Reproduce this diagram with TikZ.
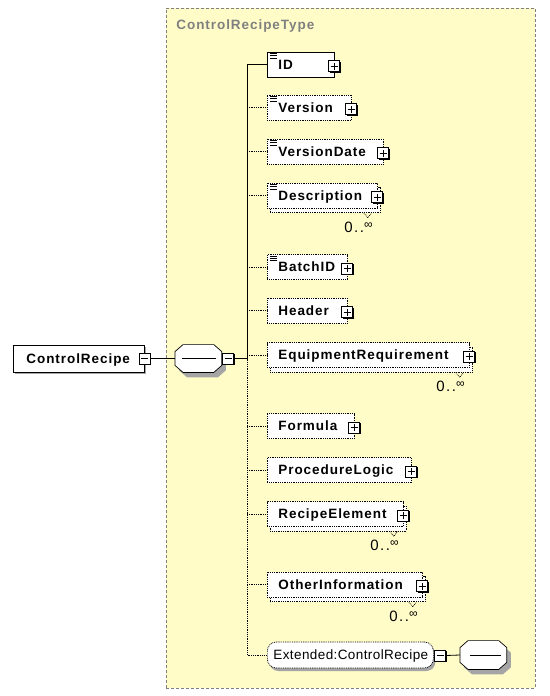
\documentclass[tikz,border=0pt]{standalone}
\usepackage{fontspec}
\setmainfont{Liberation Sans}
\newfontfamily\lbfam[LetterSpace=7]{Liberation Sans}
\newfontfamily\lrfam[LetterSpace=3]{Liberation Sans}
\newfontfamily\lmfam[LetterSpace=10]{Liberation Sans}
\usetikzlibrary{calc}
\definecolor{bgy}{RGB}{255,252,200}
\definecolor{framec}{RGB}{128,128,128}
\definecolor{shd}{RGB}{165,165,165}

\newcommand\ElBox[5][]{%
  \node[elbox,#1, minimum width={#3-267}, anchor=west] (#2) at (267,#4) {};
  \node[lab, anchor=base west] (#2-t) at (278,#4+4.8) {#5};
  \node[pm] (#2-p) at (#3,#4+1.5) {};
}
\newcommand\ElBack[3]{%
  \node[elbox, minimum width={#2-267}, anchor=west] (#1-b) at (270,#3+4.5) {};
}
\newcommand\ElMult[3]{%
  \draw[dotline, line width=0.6pt] ($(#1-b.south east)+(-17,0)$) -- ++(4,5) -- ++(4,-5);
  \node[mult, anchor=base east] (#1-m) at (#2-4,#3+36.5) {0..\raisebox{4pt}{\fontsize{12}{12}\selectfont ∞}};
}
\newcommand\ElIcon[1]{%
  \foreach \d in {1.8,4,6.2} \draw[line width=0.6pt] ([shift={(3,\d)}]#1.north west) -- ++(7,0);
}
\newcommand\OctPath[1]{([xshift=8pt]#1.north west) -- ([xshift=-8pt]#1.north east) -- ([yshift=-7pt]#1.north east) -- ([yshift=7pt]#1.south east) -- ([xshift=-8pt]#1.south east) -- ([xshift=8pt]#1.south west) -- ([yshift=7pt]#1.south west) -- ([yshift=-7pt]#1.north west) -- cycle}

\begin{document}
\begin{tikzpicture}[x=1pt,y=-1pt, line width=0.8pt,
  dotline/.style={dash pattern=on 0.9pt off 0.9pt},
  lab/.style={inner sep=0pt, font=\lbfam\bfseries\fontsize{13.5}{15}\selectfont},
  labr/.style={inner sep=0pt, font=\lrfam\fontsize{13.5}{15}\selectfont},
  mult/.style={inner sep=0pt, font=\lmfam\fontsize{15}{17}\selectfont},
  elbox/.style={draw, fill=white, line width=0.7pt, dotline, minimum height=25pt, inner sep=0pt, shape=rectangle},
  pm/.style={draw, fill=white, line width=0.7pt, solid, minimum size=11pt, inner sep=0pt, shape=rectangle,
    preaction={fill=black, transform canvas={shift={(1.2pt,-1.2pt)}}},
    path picture={\draw[line width=0.7pt, solid] ([xshift=-3.5pt]path picture bounding box.center) -- ([xshift=3.5pt]path picture bounding box.center) ([yshift=-3.5pt]path picture bounding box.center) -- ([yshift=3.5pt]path picture bounding box.center);}},
  mm/.style={draw, fill=white, line width=0.7pt, solid, minimum size=11pt, inner sep=0pt, shape=rectangle,
    preaction={fill=black, transform canvas={shift={(1.2pt,-1.2pt)}}},
    path picture={\draw[line width=0.7pt, solid] ([xshift=-3.5pt]path picture bounding box.center) -- ([xshift=3.5pt]path picture bounding box.center);}},
  seqbox/.style={inner sep=0pt, minimum width=46pt, minimum height=27pt, shape=rectangle}
]
\useasboundingbox (0,0) rectangle (549,696);

% type frame
\node[draw=framec, fill=bgy, dash pattern=on 3pt off 2pt, line width=0.7pt, minimum width=369pt, minimum height=680pt, inner sep=0pt, anchor=north west] (typebox) at (166,8) {};
\node[lab, text=framec, anchor=base west] (typetitle) at (176,29) {ControlRecipeType};

% root element
\node[draw, fill=white, line width=0.7pt, minimum width=131pt, minimum height=27pt, inner sep=0pt, anchor=west,
  preaction={fill=shd, transform canvas={shift={(1.5pt,-1.5pt)}}}] (root) at (13,358.5) {};
\node[lab, anchor=base west] (root-t) at (26,363.3) {ControlRecipe};
\node[mm] (root-m) at (144.5,358.5) {};

% sequence compositor
\node[seqbox, anchor=west] (seq) at (175,358.5) {};
\fill[shd, transform canvas={shift={(4pt,-5pt)}}] \OctPath{seq};
\draw[fill=white, line width=0.7pt] \OctPath{seq};
\draw ([xshift=7pt]seq.west) -- ([xshift=-6pt]seq.east);
\node[mm] (seq-m) at (228,358.5) {};
\draw (root-m.east) -- (seq.west);

\coordinate (spinex) at (247,0);

% elements
\ElBox[solid]{ID}{334}{64.5}{ID}\ElIcon{ID}
\ElBox{Ver}{351}{107.5}{Version}\ElIcon{Ver}
\ElBox{VerD}{383}{151.5}{VersionDate}\ElIcon{VerD}
\ElBack{Desc}{377}{195.5}\ElBox{Desc}{377}{195.5}{Description}\ElIcon{Desc}\ElMult{Desc}{377}{195.5}
\ElBox{Batch}{347}{267}{BatchID}\ElIcon{Batch}
\ElBox{Head}{347}{310.5}{Header}
\ElBack{Eq}{469}{355}\ElBox{Eq}{469}{355}{EquipmentRequirement}\ElMult{Eq}{469}{355}
\ElBox{Form}{354}{426}{Formula}
\ElBox{Proc}{411}{470}{ProcedureLogic}
\ElBack{Rec}{403}{514}\ElBox{Rec}{403}{514}{RecipeElement}\ElMult{Rec}{403}{514}
\ElBack{Oth}{422}{584.5}\ElBox{Oth}{422}{584.5}{OtherInformation}\ElMult{Oth}{422}{584.5}

% extension
\node[draw, fill=white, line width=0.7pt, dotline, rounded corners=9pt, minimum width=166pt, minimum height=26pt, inner sep=0pt, anchor=west,
  preaction={fill=shd, transform canvas={shift={(2pt,-3pt)}}}] (Ext) at (267,655) {};
\node[labr, anchor=base west] (Ext-t) at (273,659.8) {Extended:ControlRecipe};
\node[mm] (Ext-m) at (440,655.5) {};
\node[seqbox, minimum height=28pt, anchor=west] (Ext-seq) at (460,655) {};
\fill[shd, transform canvas={shift={(4pt,-5pt)}}] \OctPath{Ext-seq};
\draw[fill=white, line width=0.7pt] \OctPath{Ext-seq};
\draw ([xshift=10pt]Ext-seq.west) -- ([xshift=-6pt]Ext-seq.east);
\draw (Ext-m.east) -- (Ext-seq.west);

% connectors
\draw (seq-m.east) -- (seq-m.east -| spinex) coordinate (junction);
\draw (junction) -- (ID.west -| spinex) -- (ID.west);
\draw[dotline] (junction) -- (Ext.west -| spinex) -- (Ext.west);
\foreach \n in {Ver,VerD,Desc,Batch,Head,Eq,Form,Proc,Rec,Oth}
  \draw[dotline] (\n.west -| spinex) -- (\n.west);
\end{tikzpicture}
\end{document}
